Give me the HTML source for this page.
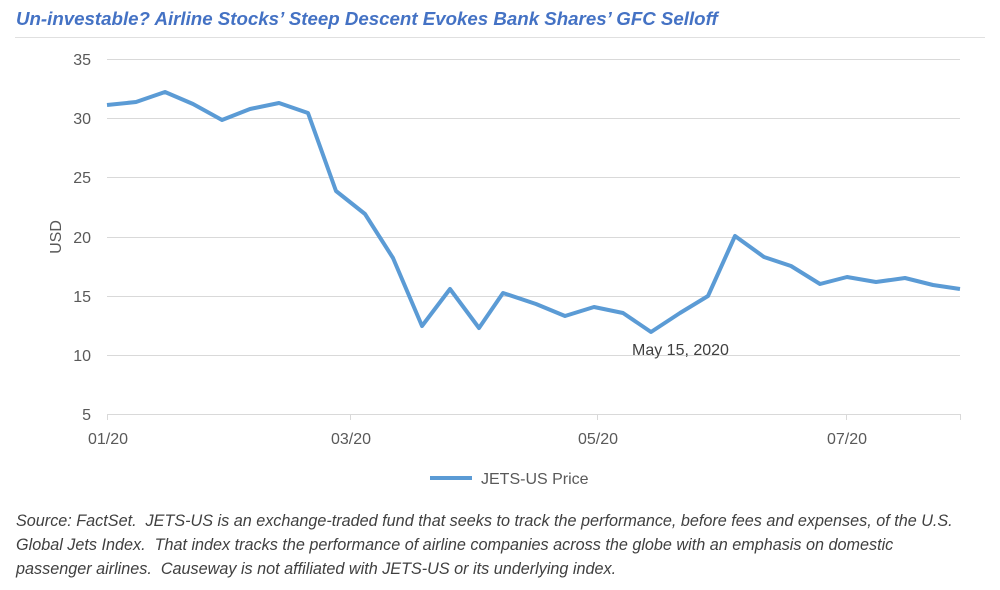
<!DOCTYPE html>
<html><head><meta charset="utf-8"><style>
body{margin:0;background:#fff;width:1000px;height:590px;overflow:hidden;font-family:"Liberation Sans",sans-serif}
.t{position:absolute;left:16px;top:8px;font-size:18.7px;font-weight:bold;font-style:italic;color:#4472c4;white-space:nowrap}
.s{position:absolute;left:16px;top:509px;width:990px;font-size:16.2px;font-style:italic;color:#404040;line-height:24px;white-space:nowrap}
</style></head><body>
<div class="t">Un-investable? Airline Stocks’ Steep Descent Evokes Bank Shares’ GFC Selloff</div>
<svg width="1000" height="590" style="position:absolute;left:0;top:0">
<line x1="15" y1="37.5" x2="985" y2="37.5" stroke="#e0e0e0"/>
<g stroke="#d9d9d9" stroke-width="1">
<line x1="107" y1="59.5" x2="960" y2="59.5"/><line x1="107" y1="118.5" x2="960" y2="118.5"/>
<line x1="107" y1="177.5" x2="960" y2="177.5"/><line x1="107" y1="237.5" x2="960" y2="237.5"/>
<line x1="107" y1="296.5" x2="960" y2="296.5"/><line x1="107" y1="355.5" x2="960" y2="355.5"/>
<line x1="107" y1="414.5" x2="960" y2="414.5"/>
<line x1="107.5" y1="414" x2="107.5" y2="420"/><line x1="350.5" y1="414" x2="350.5" y2="420"/>
<line x1="597.5" y1="414" x2="597.5" y2="420"/><line x1="846.5" y1="414" x2="846.5" y2="420"/>
<line x1="960.5" y1="414" x2="960.5" y2="420"/>
</g>
<g font-size="16" fill="#595959" text-anchor="end">
<text x="91" y="65">35</text><text x="91" y="124">30</text><text x="91" y="183">25</text>
<text x="91" y="243">20</text><text x="91" y="302">15</text><text x="91" y="361">10</text><text x="91" y="420">5</text>
</g>
<g font-size="16" fill="#595959" text-anchor="middle">
<text x="108" y="444">01/20</text><text x="351" y="444">03/20</text><text x="598" y="444">05/20</text><text x="847" y="444">07/20</text>
</g>
<text transform="translate(61,237) rotate(-90)" font-size="16" fill="#595959" text-anchor="middle">USD</text>
<polyline fill="none" stroke="#5b9bd5" stroke-width="4" stroke-linejoin="round" points="107,105 136,102 165,92 193,104 222,120 250,109 279,103 308,113 336,191 365,214 393,258 422,326 450,289 479,328 503,293 536,304 565,316 594,307 623,313 651,332 680,313 708,296 735,236 764,257 791,266 820,284 847,277 876,282 905,278 933,285 960,289"/>
<text x="632" y="355" font-size="16" fill="#404040">May 15, 2020</text>
<line x1="430" y1="478" x2="472" y2="478" stroke="#5b9bd5" stroke-width="4"/>
<text x="481" y="484" font-size="16" fill="#595959">JETS-US Price</text>
</svg>
<div class="s">Source: FactSet.&nbsp; JETS-US is an exchange-traded fund that seeks to track the performance, before fees and expenses, of the U.S.<br>Global Jets Index.&nbsp; That index tracks the performance of airline companies across the globe with an emphasis on domestic<br>passenger airlines.&nbsp; Causeway is not affiliated with JETS-US or its underlying index.</div>
</body></html>
